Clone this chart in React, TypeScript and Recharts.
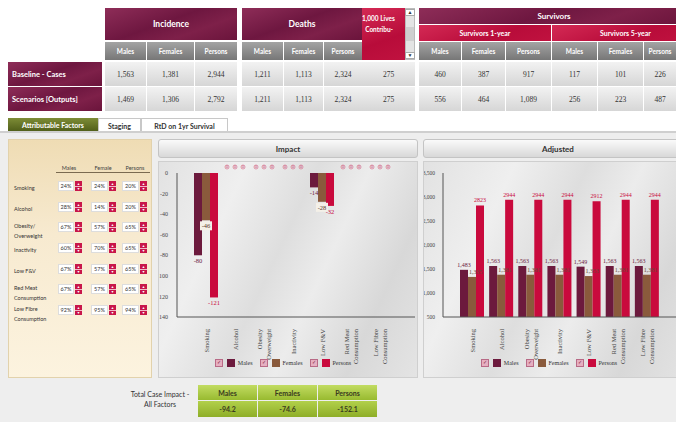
import React from "react";
import { BarChart, Bar, XAxis, YAxis, LabelList, Legend } from "recharts";

// ---- data ----
const factors = [
  "Smoking",
  "Alcohol",
  "Obesity\nOverweight",
  "Inactivity",
  "Low F&V",
  "Red Meat\nConsumption",
  "Low Fibre\nConsumption",
];
const factorNames = [
  "Smoking",
  "Alcohol",
  "Obesity/\nOverweight",
  "Inactivity",
  "Low F&V",
  "Red Meat\nConsumption",
  "Low Fibre\nConsumption",
];

const impactMales = [-80, 0, 0, 0, -14, 0, 0];
const impactFemales = [-46, 0, 0, 0, -28, 0, 0];
const impactPersons = [-121, 0, 0, 0, -32, 0, 0];
const impactTicks = [0, -20, -40, -60, -80, -100, -120, -140];

const adjustedMales = [1483, 1563, 1563, 1563, 1549, 1563, 1563];
const adjustedFemales = [1335, 1381, 1381, 1381, 1353, 1381, 1381];
const adjustedPersons = [2823, 2944, 2944, 2944, 2912, 2944, 2944];
const adjustedTicks = [500, 1000, 1500, 2000, 2500, 3000, 3500];

const pctMales = [24, 28, 67, 60, 67, 67, 92];
const pctFemales = [24, 14, 57, 70, 57, 57, 95];
const pctPersons = [20, 20, 65, 65, 65, 65, 94];

const sexes = ["Males", "Females", "Persons"];
const pctHeaders = ["Males", "Female", "Persons"];
const rowLabels = ["Baseline - Cases", "Scenarios [Outputs]"];
const incidence = [
  [1563, 1381, 2944],
  [1469, 1306, 2792],
];
const deaths = [
  [1211, 1113, 2324],
  [1211, 1113, 2324],
];
const livesContrib = [275, 275];
const survivors1 = [
  [460, 387, 917],
  [556, 464, 1089],
];
const survivors5 = [
  [117, 101, 226],
  [256, 223, 487],
];
const totalImpact = [-94.2, -74.6, -152.1];
const tabs = ["Attributable Factors", "Staging", "RtD on 1yr Survival"];

// ---- look ----
const MALE = "#6c1a3d";
const FEMALE = "#8a5a3c";
const PERSONS = "#c90a3d";
const SANS = "Lato, 'Open Sans', sans-serif";
const SERIF = "'Liberation Serif', 'DejaVu Serif', serif";
const MAROON = "linear-gradient(160deg, #8e2d58 0%, #6e1740 45%, #7e2049 70%, #6a143b 100%)";
const CRIMSON = "linear-gradient(160deg, #d42a55 0%, #b80c3a 60%, #c0123f 100%)";
const GREYHEAD = "linear-gradient(#a4a4a4, #777)";
const CELL = "linear-gradient(#f2f2f2, #d6d6d6)";

const fmt = (v: number) => v.toLocaleString("en-US");

const abs = (x: number, y: number, w: number, h: number): React.CSSProperties => ({
  position: "absolute",
  left: x,
  top: y,
  width: w,
  height: h,
  boxSizing: "border-box",
  display: "flex",
  alignItems: "center",
  justifyContent: "center",
});

// top table column layout
const topCols = [
  { x: 105, w: 41 },
  { x: 147, w: 47 },
  { x: 195, w: 42 },
  { x: 242, w: 41 },
  { x: 284, w: 39 },
  { x: 324, w: 38 },
  { x: 362, w: 53 },
  { x: 419, w: 42 },
  { x: 462, w: 43 },
  { x: 506, w: 45 },
  { x: 552, w: 45 },
  { x: 598, w: 45 },
  { x: 644, w: 32 },
];

function TopTable() {
  const rows = [0, 1].map((r) => [
    ...incidence[r],
    ...deaths[r],
    livesContrib[r],
    ...survivors1[r],
    ...survivors5[r],
  ]);
  const subHeads = [...sexes, ...sexes, "", ...sexes, ...sexes];
  const head = { color: "#fff", fontFamily: SANS, fontWeight: 700 as const };
  return (
    <>
      <div style={{ ...abs(105, 8, 132, 32), background: MAROON, ...head, fontSize: 8.5 }}>Incidence</div>
      <div style={{ ...abs(242, 8, 120, 32), background: MAROON, ...head, fontSize: 8.5 }}>Deaths</div>
      <div
        style={{
          ...abs(362, 8, 43, 52),
          background: CRIMSON,
          ...head,
          fontSize: 6.5,
          justifyContent: "flex-start",
          alignItems: "flex-start",
          paddingTop: 5,
          lineHeight: "11px",
          overflow: "hidden",
          whiteSpace: "pre",
        }}
      >
        {"1,000 Lives\n  Contribu-"}
      </div>
      <div style={{ ...abs(405, 8, 10, 52), background: "#e4e4e4", border: "1px solid #bbb", flexDirection: "column", justifyContent: "space-between", fontSize: 5, color: "#333" }}>
        <span style={{ background: "#fff", width: 8, textAlign: "center", border: "1px solid #aaa" }}>▲</span>
        <span style={{ background: "#cfcfcf", width: 8, height: 14 }} />
        <span style={{ background: "#fff", width: 8, textAlign: "center", border: "1px solid #aaa" }}>▼</span>
      </div>
      <div style={{ ...abs(419, 8, 270, 16), background: MAROON, ...head, fontSize: 8 }}>Survivors</div>
      <div style={{ ...abs(419, 25, 132, 16), background: CRIMSON, ...head, fontSize: 7 }}>Survivors 1-year</div>
      <div style={{ ...abs(552, 25, 137, 16), background: CRIMSON, ...head, fontSize: 7 }}>
        <span style={{ marginLeft: 10 }}>Survivors 5-year</span>
      </div>
      {topCols.map((c, i) =>
        subHeads[i] ? (
          <div key={"h" + i} style={{ ...abs(c.x, 42, c.w, 18), background: GREYHEAD, ...head, fontSize: 6.5 }}>
            {subHeads[i]}
          </div>
        ) : null
      )}
      {rowLabels.map((l, r) => (
        <div
          key={l}
          style={{
            ...abs(8, r === 0 ? 62 : 87, 94, 24),
            background: MAROON,
            ...head,
            fontSize: 7.5,
            justifyContent: "flex-start",
            paddingLeft: 4,
          }}
        >
          {l}
        </div>
      ))}
      {rows.map((vals, r) =>
        vals.map((v, i) => (
          <div
            key={r + "-" + i}
            style={{
              ...abs(topCols[i].x, r === 0 ? 62 : 87, topCols[i].w, 24),
              background: CELL,
              fontFamily: SERIF,
              fontSize: 7.5,
              color: "#333",
            }}
          >
            {fmt(v)}
          </div>
        ))
      )}
    </>
  );
}

function Tabs() {
  const pos = [
    { x: 8, w: 90 },
    { x: 98, w: 43 },
    { x: 141, w: 87 },
  ];
  return (
    <>
      {tabs.map((t, i) => (
        <div
          key={t}
          style={{
            ...abs(pos[i].x, 118, pos[i].w, 14),
            background: i === 0 ? "linear-gradient(#7d8c36, #4e5c18)" : "#fff",
            color: i === 0 ? "#fff" : "#333",
            border: i === 0 ? "none" : "1px solid #c8c8c8",
            borderBottom: "none",
            fontFamily: SANS,
            fontWeight: 700,
            fontSize: 7,
          }}
        >
          {t}
        </div>
      ))}
      <div style={{ position: "absolute", left: 0, top: 131, width: 676, height: 2, background: "#cfcfcf" }} />
    </>
  );
}

function Spinner({ x, y }: { x: number; y: number }) {
  return (
    <div style={{ ...abs(x, y, 7, 10), background: "#c8164a", flexDirection: "column", fontSize: 3.5, color: "#fff", lineHeight: "4px" }}>
      <span>▲</span>
      <span style={{ width: 7, height: 1, background: "#f2b8c8" }} />
      <span>▼</span>
    </div>
  );
}

function FactorPanel() {
  const rowTops = [180, 201, 221, 242, 263, 283, 304];
  const cols = [
    { x: 57, w: 16, vals: pctMales },
    { x: 90, w: 17, vals: pctFemales },
    { x: 121, w: 17, vals: pctPersons },
  ];
  const headX = [68, 102, 134];
  return (
    <div
      style={{
        position: "absolute",
        left: 8,
        top: 139,
        width: 144,
        height: 239,
        background: "linear-gradient(#efdcb4 0%, #f7ead0 40%, #fcf3df 100%)",
        border: "1px solid #e2d2ac",
        boxSizing: "border-box",
      }}
    >
      {pctHeaders.map((h, i) => (
        <div key={h} style={{ ...abs(headX[i] - 8 - 16, 24, 32, 8), fontFamily: SANS, fontSize: 5.5, color: "#444" }}>
          {h}
        </div>
      ))}
      <div style={{ position: "absolute", left: 47, top: 32, width: 94, height: 1, background: "#7a6a50" }} />
      {factorNames.map((f, r) => (
        <React.Fragment key={f}>
          <div
            style={{
              position: "absolute",
              left: 5,
              top: rowTops[r] - 139 + (f.includes("\n") ? -1 : 2),
              fontFamily: SANS,
              fontSize: 5.5,
              lineHeight: "10px",
              color: "#333",
              whiteSpace: "pre",
            }}
          >
            {f}
          </div>
          {cols.map((c, ci) => (
            <React.Fragment key={ci}>
              <div
                style={{
                  ...abs(c.x - 8, rowTops[r] - 139, c.w, 10),
                  background: "#fff",
                  border: "1px solid #ddd",
                  fontFamily: SANS,
                  fontSize: 5.5,
                  color: "#333",
                }}
              >
                {c.vals[r] + "%"}
              </div>
              <Spinner x={c.x - 8 + c.w + 1} y={rowTops[r] - 139} />
            </React.Fragment>
          ))}
        </React.Fragment>
      ))}
    </div>
  );
}

function TotalTable() {
  const colX = [198, 258, 318];
  return (
    <>
      <div
        style={{
          ...abs(122, 386, 76, 26),
          flexDirection: "column",
          fontFamily: SANS,
          fontSize: 7,
          color: "#333",
          lineHeight: "10px",
        }}
      >
        <span>Total Case Impact -</span>
        <span>All Factors</span>
      </div>
      {sexes.map((s, i) => (
        <React.Fragment key={s}>
          <div
            style={{
              ...abs(colX[i], 385, 59, 15),
              background: "linear-gradient(#c2dc62, #98ba30)",
              fontFamily: SANS,
              fontWeight: 700,
              fontSize: 7,
              color: "#3a3a20",
            }}
          >
            {s}
          </div>
          <div
            style={{
              ...abs(colX[i], 401, 59, 16),
              background: "linear-gradient(#b2d04a, #8eae28)",
              fontFamily: SANS,
              fontWeight: 700,
              fontSize: 7,
              color: "#3a3a20",
            }}
          >
            {totalImpact[i]}
          </div>
        </React.Fragment>
      ))}
    </>
  );
}

// ---- charts ----
const CategoryTick = (props: any) => {
  const { x, y, payload } = props;
  const lines = String(payload.value).split("\n");
  const n = lines.length;
  return (
    <g transform={`translate(${x},${y + 4})`}>
      <text transform="rotate(-90)" textAnchor="end" fontSize={6.5} fill="#444" fontFamily={SERIF}>
        {lines.map((l, i) => (
          <tspan key={i} x={0} y={(i - (n - 1) / 2) * 9 + 2.3}>
            {l}
          </tspan>
        ))}
      </text>
    </g>
  );
};

const legendItems = [
  { name: sexes[0], color: MALE },
  { name: sexes[1], color: FEMALE },
  { name: sexes[2], color: PERSONS },
];

const renderLegend = () => (
  <div
    style={{
      display: "flex",
      justifyContent: "center",
      alignItems: "center",
      height: 14,
      fontFamily: SERIF,
      fontSize: 6,
      color: "#333",
    }}
  >
    {legendItems.map((it) => (
      <div key={it.name} style={{ display: "flex", alignItems: "center", marginRight: 7 }}>
        <span
          style={{
            width: 6,
            height: 6,
            background: "#e6afc0",
            border: "1px solid #b86a86",
            marginRight: 4,
            fontSize: 5,
            lineHeight: "6px",
            textAlign: "center",
            color: "#7a2040",
          }}
        >
          ✓
        </span>
        <span style={{ width: 8, height: 8, background: it.color, marginRight: 3 }} />
        <span>{it.name}</span>
      </div>
    ))}
  </div>
);

const impactLabel = (color: string, boxed: boolean) => (props: any) => {
  const { x, y, width, height, value } = props;
  const cx = x + width / 2;
  if (Number(value) === 0) {
    const top = Math.min(y, y + height);
    return (
      <g>
        <circle cx={cx} cy={top - 6} r={2} fill="none" stroke="#d8708e" strokeWidth={0.7} />
        <text x={cx} y={top - 4.5} textAnchor="middle" fontSize={4} fill="#c0385e" fontFamily={SERIF}>
          0
        </text>
      </g>
    );
  }
  const end = Math.max(y, y + height);
  return (
    <g>
      {boxed && <rect x={cx - 6} y={end + 1} width={12} height={9} fill="#f4f0e8" />}
      <text x={cx} y={end + 8} textAnchor="middle" fontSize={6.5} fill={color} fontFamily={SERIF}>
        {value}
      </text>
    </g>
  );
};

const adjustedLabel = (color: string, anchor: "middle" | "start", plain: boolean) => (props: any) => {
  const { x, y, width, height, value } = props;
  const top = Math.min(y, y + height);
  const tx = anchor === "middle" ? x + width / 2 : x + 1;
  return (
    <text x={tx} y={top - 3} textAnchor={anchor} fontSize={6} fill={color} fontFamily={SERIF}>
      {plain ? String(value) : fmt(value)}
    </text>
  );
};

const panelBg =
  "linear-gradient(115deg, #e2e2e2 0%, #efefef 25%, #dedede 45%, #ececec 60%, #d8d8d8 80%, #e4e4e4 100%)";

function ChartBox({
  title,
  left,
  width,
  chartWidth,
  children,
}: {
  title: string;
  left: number;
  width: number;
  chartWidth: number;
  children: (w: number) => React.ReactNode;
}) {
  return (
    <>
      <div
        style={{
          ...abs(left, 139, width, 19),
          background: "linear-gradient(#fafafa, #d8d8d8)",
          border: "1px solid #c4c4c4",
          borderRadius: 3,
          fontFamily: SANS,
          fontWeight: 700,
          fontSize: 8,
          color: "#333",
        }}
      >
        {title}
      </div>
      <div
        style={{
          position: "absolute",
          left,
          top: 161,
          width,
          height: 217,
          background: panelBg,
          border: "1px solid #cfcfcf",
          boxSizing: "border-box",
          overflow: "hidden",
        }}
      >
        <div style={{ position: "absolute", left: -1, top: -1 }}>{children(chartWidth)}</div>
      </div>
    </>
  );
}

export default function App() {
  const impactData = factors.map((f, i) => ({
    factor: f,
    males: impactMales[i],
    females: impactFemales[i],
    persons: impactPersons[i],
  }));
  const adjustedData = factors.map((f, i) => ({
    factor: f,
    males: adjustedMales[i],
    females: adjustedFemales[i],
    persons: adjustedPersons[i],
  }));

  const common = {
    height: 217,
    margin: { top: 12, right: 3, left: 0, bottom: 8 },
    barCategoryGap: 2,
    barGap: 0,
  };
  const xAxis = (
    <XAxis
      dataKey="factor"
      tick={<CategoryTick />}
      tickLine={false}
      interval={0}
      height={39}
      padding={{ left: 15, right: 20 }}
      axisLine={{ stroke: "#555" }}
    />
  );

  return (
    <div
      style={{
        position: "absolute",
        left: 0,
        top: 0,
        width: 676,
        height: 422,
        overflow: "hidden",
        background: "#fff",
      }}
    >
      <div style={{ position: "absolute", left: 0, top: 133, width: 676, height: 289, background: "#eeeeee" }} />
      <TopTable />
      <Tabs />
      <FactorPanel />

      <ChartBox title="Impact" left={158} width={260} chartWidth={260}>
        {(w) => (
          <BarChart width={w} data={impactData} {...common}>
            {xAxis}
            <YAxis
              domain={[-140, 0]}
              ticks={impactTicks}
              interval={0}
              width={19}
              tickLine={false}
              tickMargin={3}
              axisLine={{ stroke: "#555" }}
              tick={{ fontSize: 6, fill: "#444", fontFamily: SERIF }}
            />
            <Legend content={renderLegend} height={14} verticalAlign="bottom" />
            <Bar dataKey="males" fill={MALE} minPointSize={0.01} isAnimationActive={false}>
              <LabelList dataKey="males" content={impactLabel(MALE, false)} />
            </Bar>
            <Bar dataKey="females" fill={FEMALE} minPointSize={0.01} isAnimationActive={false}>
              <LabelList dataKey="females" content={impactLabel("#5a3a2a", true)} />
            </Bar>
            <Bar dataKey="persons" fill={PERSONS} minPointSize={0.01} isAnimationActive={false}>
              <LabelList dataKey="persons" content={impactLabel(PERSONS, false)} />
            </Bar>
          </BarChart>
        )}
      </ChartBox>

      <ChartBox title="Adjusted" left={423} width={270} chartWidth={262}>
        {(w) => (
          <BarChart width={w} data={adjustedData} {...common}>
            {xAxis}
            <YAxis
              domain={[500, 3500]}
              ticks={adjustedTicks}
              interval={0}
              width={20}
              tickLine={false}
              tickMargin={2}
              axisLine={{ stroke: "#555" }}
              tickFormatter={fmt}
              tick={{ fontSize: 5.5, fill: "#444", fontFamily: SERIF }}
            />
            <Legend content={renderLegend} height={14} verticalAlign="bottom" />
            <Bar dataKey="males" fill={MALE} isAnimationActive={false}>
              <LabelList dataKey="males" content={adjustedLabel(MALE, "middle", false)} />
            </Bar>
            <Bar dataKey="females" fill={FEMALE} isAnimationActive={false}>
              <LabelList dataKey="females" content={adjustedLabel("#6a4a36", "start", false)} />
            </Bar>
            <Bar dataKey="persons" fill={PERSONS} isAnimationActive={false}>
              <LabelList dataKey="persons" content={adjustedLabel(PERSONS, "middle", true)} />
            </Bar>
          </BarChart>
        )}
      </ChartBox>

      <TotalTable />
    </div>
  );
}
